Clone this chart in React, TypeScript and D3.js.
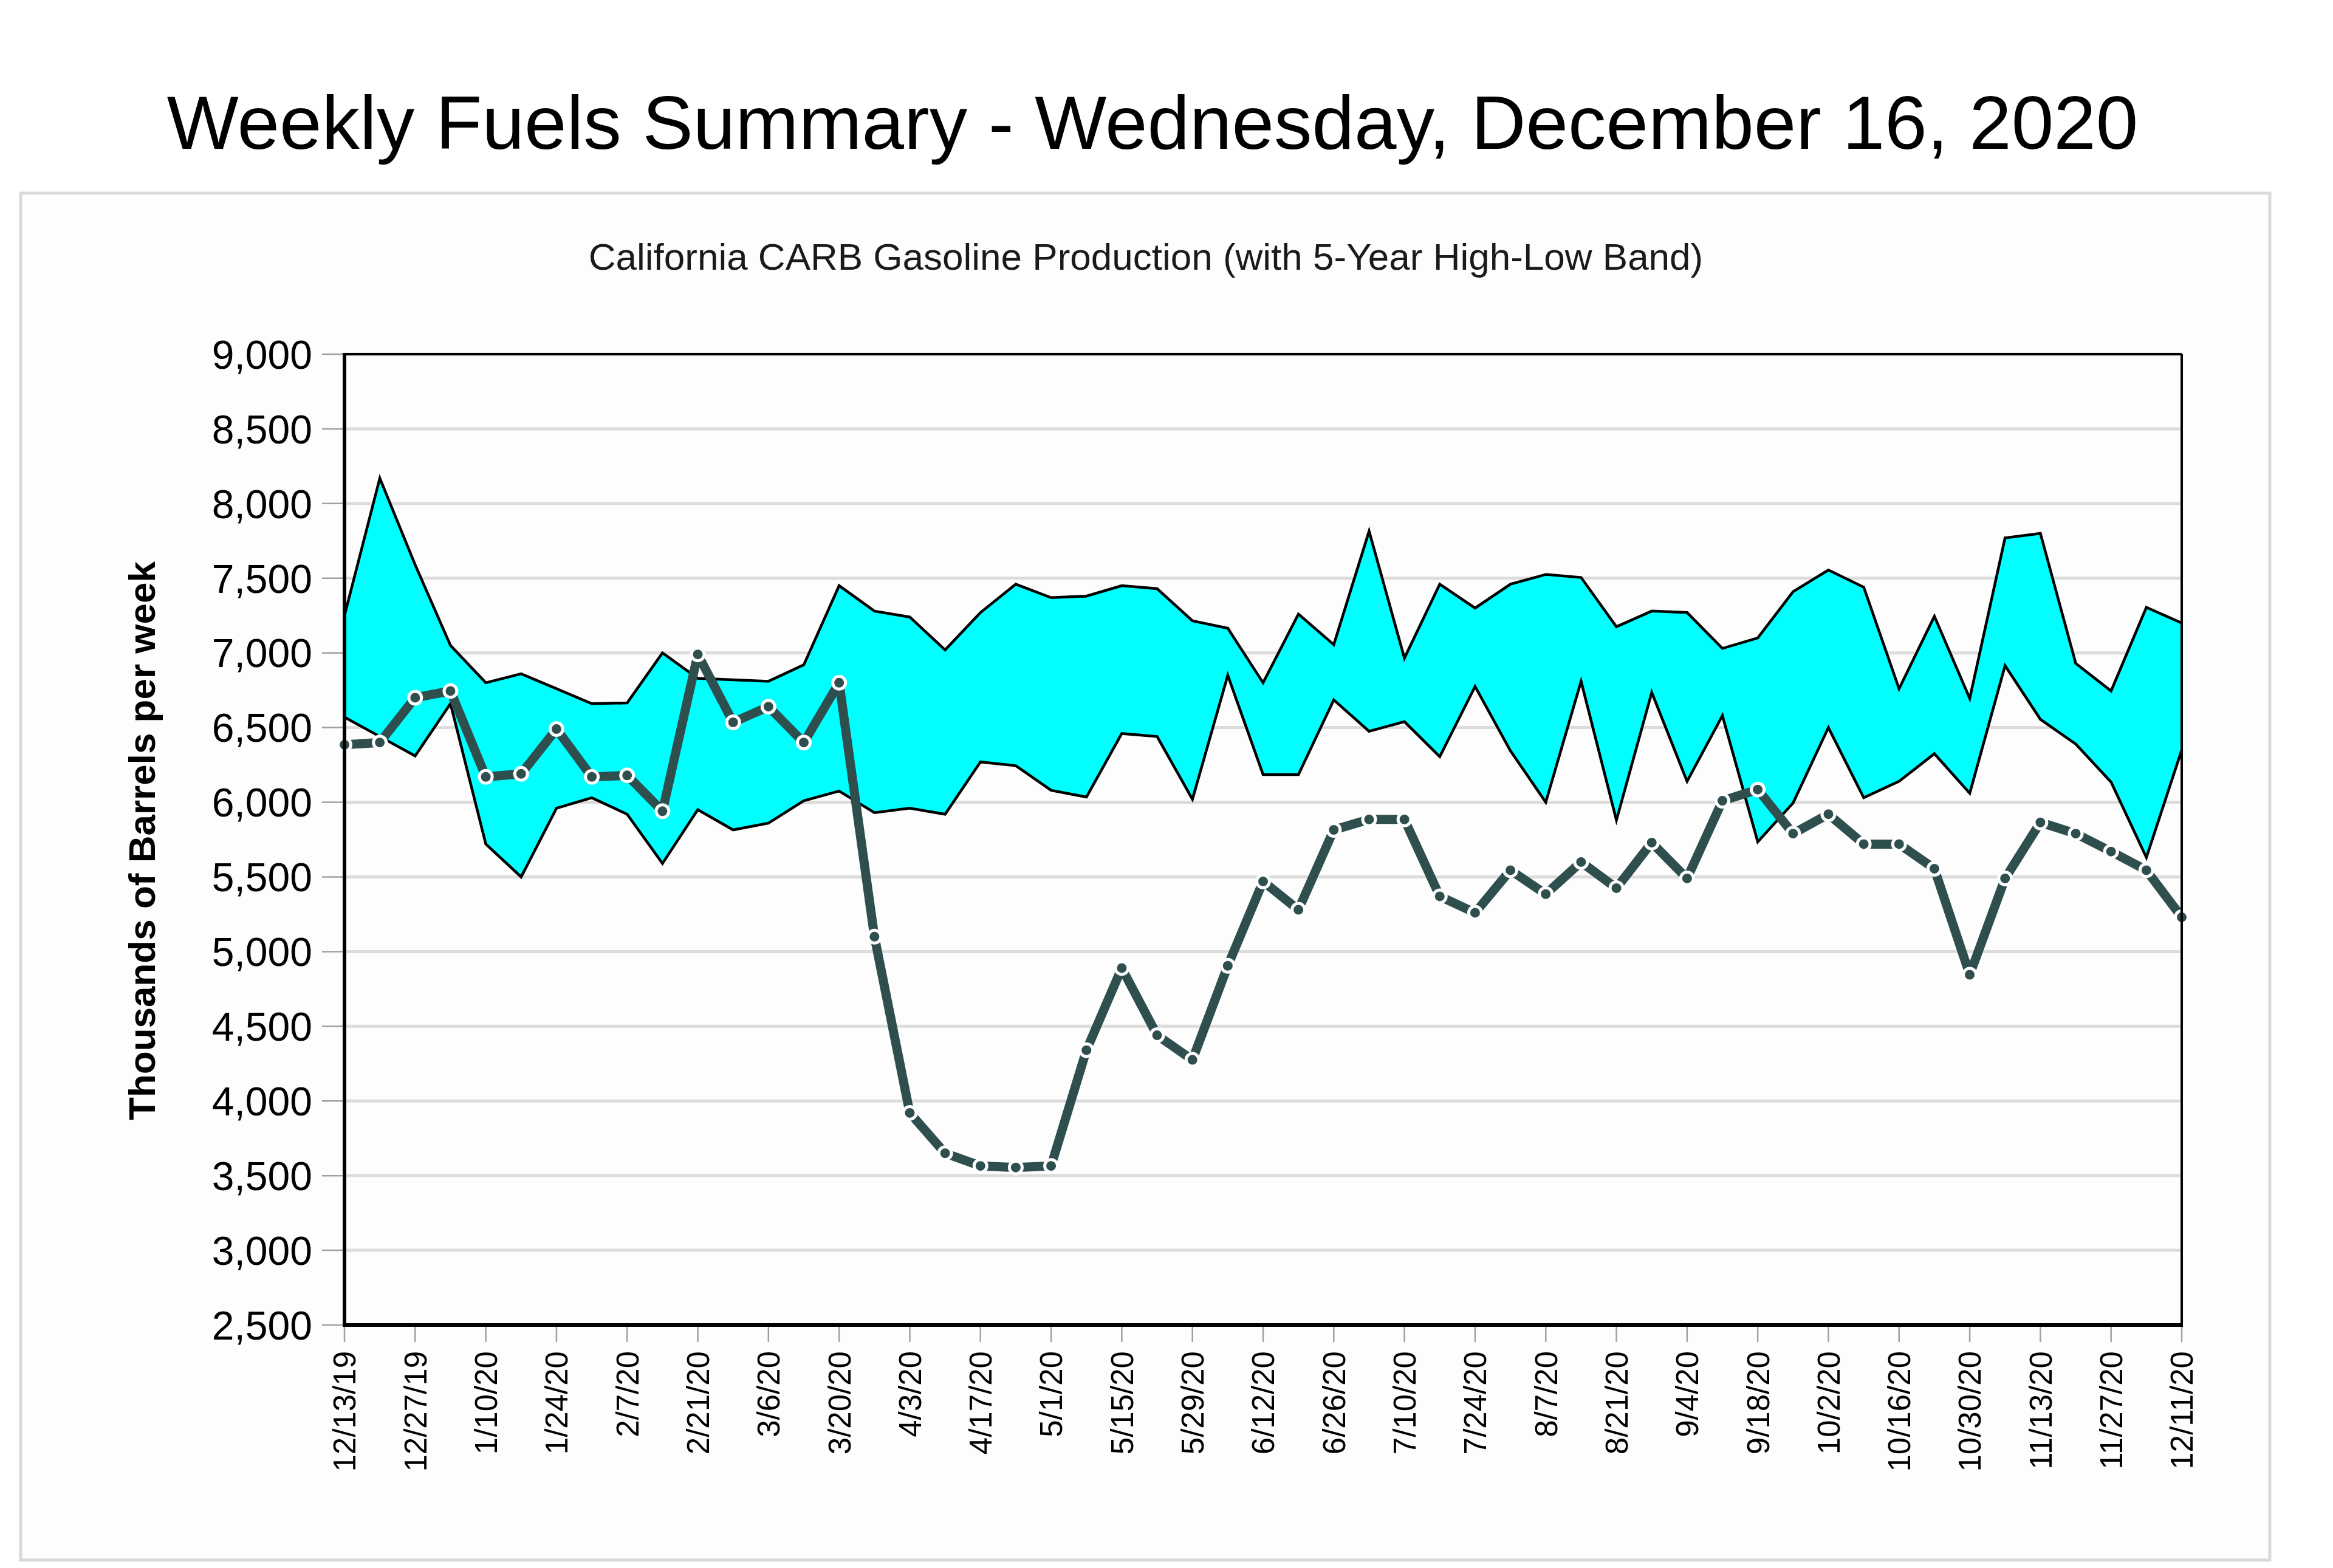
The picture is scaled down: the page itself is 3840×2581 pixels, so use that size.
import React from "react";
import * as d3 from "d3";

const dates = [
  "12/13/19","12/20/19","12/27/19","1/3/20","1/10/20","1/17/20","1/24/20","1/31/20",
  "2/7/20","2/14/20","2/21/20","2/28/20","3/6/20","3/13/20","3/20/20","3/27/20",
  "4/3/20","4/10/20","4/17/20","4/24/20","5/1/20","5/8/20","5/15/20","5/22/20","5/29/20",
  "6/5/20","6/12/20","6/19/20","6/26/20","7/3/20","7/10/20","7/17/20","7/24/20","7/31/20",
  "8/7/20","8/14/20","8/21/20","8/28/20","9/4/20","9/11/20","9/18/20","9/25/20",
  "10/2/20","10/9/20","10/16/20","10/23/20","10/30/20","11/6/20","11/13/20","11/20/20",
  "11/27/20","12/4/20","12/11/20"
];

const bandHigh = [
  7250, 8170, 7590, 7050, 6800, 6860, 6760, 6660, 6665, 7000, 6830, 6820, 6810, 6920, 7450, 7280,
  7240, 7020, 7270, 7460, 7370, 7380, 7450, 7430, 7215, 7165, 6800, 7260, 7055, 7815, 6965, 7460,
  7300, 7460, 7525, 7505, 7175, 7280, 7270, 7030, 7100, 7410, 7555, 7440, 6760, 7245, 6695, 7770,
  7800, 6930, 6745, 7305, 7200
];

const bandLow = [
  6570, 6440, 6310, 6660, 5720, 5500, 5960, 6030, 5920, 5590, 5950, 5815, 5860, 6010, 6075, 5930,
  5960, 5920, 6270, 6245, 6080, 6035, 6460, 6440, 6020, 6850, 6185, 6185, 6685, 6475, 6540, 6305,
  6775, 6345, 6000, 6810, 5880, 6735, 6140, 6580, 5735, 5995, 6500, 6030, 6140, 6325, 6060, 6915,
  6555, 6390, 6135, 5630, 6350
];

const production2020 = [
  6385, 6400, 6700, 6745, 6170, 6190, 6490, 6170, 6180, 5940, 6990, 6535, 6640, 6400, 6800, 5100,
  3920, 3650, 3565, 3555, 3565, 4340, 4890, 4440, 4275, 4905, 5470, 5280, 5815, 5885, 5885, 5370,
  5260, 5545, 5385, 5600, 5425, 5730, 5490, 6010, 6085, 5790, 5920, 5720, 5720, 5555, 4845, 5490,
  5865, 5790, 5670, 5545, 5230
];

const yTicks = [2500, 3000, 3500, 4000, 4500, 5000, 5500, 6000, 6500, 7000, 7500, 8000, 8500, 9000];
const xTickLabels = dates.filter((_, i) => i % 2 === 0);

const title = "Weekly Fuels Summary - Wednesday, December 16, 2020";
const subtitle = "California CARB Gasoline Production (with 5-Year High-Low Band)";
const yTitle = "Thousands of Barrels per week";

const W = 3840;
const H = 2581;
const left = 567;
const right = 3591;
const top = 583;
const bottom = 2181;
const FONT = "'Liberation Sans', Arial, Helvetica, sans-serif";

export default function App() {
  const x = d3.scalePoint<string>().domain(dates).range([left, right]);
  const y = d3.scaleLinear().domain([2500, 9000]).range([bottom, top]);

  const idx = dates.map((_, i) => i);
  const area = d3
    .area<number>()
    .x((i) => x(dates[i]) as number)
    .y0((i) => y(bandLow[i]))
    .y1((i) => y(bandHigh[i]));
  const hiLine = d3.line<number>().x((i) => x(dates[i]) as number).y((i) => y(bandHigh[i]));
  const loLine = d3.line<number>().x((i) => x(dates[i]) as number).y((i) => y(bandLow[i]));
  const prodLine = d3
    .line<number>()
    .x((i) => x(dates[i]) as number)
    .y((i) => y(production2020[i]));

  const lineColor = "#2F4F4F";

  return (
    <svg
      width={W}
      height={H}
      viewBox={`0 0 ${W} ${H}`}
      style={{ position: "absolute", left: 0, top: 0, background: "#ffffff" }}
      fontFamily={FONT}
    >
      <rect x={0} y={0} width={W} height={H} fill="#ffffff" />
      <text x={1897} y={245} fontSize={125} textAnchor="middle" fill="#000">
        {title}
      </text>
      <rect x={34} y={318} width={3702} height={2250} fill="#fdfdfd" stroke="#d9d9d9" strokeWidth={5} />
      <text x={1886} y={444} fontSize={62} textAnchor="middle" fill="#1a1a1a">
        {subtitle}
      </text>

      {/* gridlines */}
      {yTicks.map((t) => (
        <g key={t}>
          <line x1={left} x2={right} y1={y(t)} y2={y(t)} stroke="#dcdcdc" strokeWidth={5} />
          <line x1={530} x2={left} y1={y(t)} y2={y(t)} stroke="#a0a0a0" strokeWidth={2.5} />
          <text x={514} y={y(t)} dy="0.36em" fontSize={66} textAnchor="end" fill="#000">
            {d3.format(",")(t)}
          </text>
        </g>
      ))}

      {/* band */}
      <path d={area(idx) || ""} fill="#00FFFF" stroke="none" />
      <path d={hiLine(idx) || ""} fill="none" stroke="#000" strokeWidth={4.5} strokeLinejoin="miter" />
      <path d={loLine(idx) || ""} fill="none" stroke="#000" strokeWidth={4.5} strokeLinejoin="miter" />

      {/* production line */}
      <path d={prodLine(idx) || ""} fill="none" stroke={lineColor} strokeWidth={15} strokeLinejoin="round" />
      {idx.map((i) => (
        <circle
          key={i}
          cx={x(dates[i]) as number}
          cy={y(production2020[i])}
          r={10.5}
          fill={lineColor}
          stroke="#ffffff"
          strokeWidth={5}
        />
      ))}

      {/* frame */}
      <line x1={left} x2={right} y1={top} y2={top} stroke="#000" strokeWidth={4} />
      <line x1={right} x2={right} y1={top} y2={bottom} stroke="#000" strokeWidth={4} />
      <line x1={left} x2={left} y1={top - 2} y2={bottom + 3} stroke="#000" strokeWidth={6} />
      <line x1={left - 3} x2={right + 2} y1={bottom} y2={bottom} stroke="#000" strokeWidth={6} />

      {/* x ticks and labels */}
      {xTickLabels.map((d) => {
        const xp = x(d) as number;
        return (
          <g key={d}>
            <line x1={xp} x2={xp} y1={bottom + 3} y2={bottom + 28} stroke="#a0a0a0" strokeWidth={2.5} />
            <text
              transform={`translate(${xp},${2224}) rotate(-90)`}
              dy="0.36em"
              fontSize={51}
              textAnchor="end"
              fill="#000"
            >
              {d}
            </text>
          </g>
        );
      })}

      {/* y axis title */}
      <text
        transform={`translate(233,1384) rotate(-90)`}
        dy="0.36em"
        fontSize={62}
        fontWeight="bold"
        textAnchor="middle"
        fill="#000"
      >
        {yTitle}
      </text>
    </svg>
  );
}
